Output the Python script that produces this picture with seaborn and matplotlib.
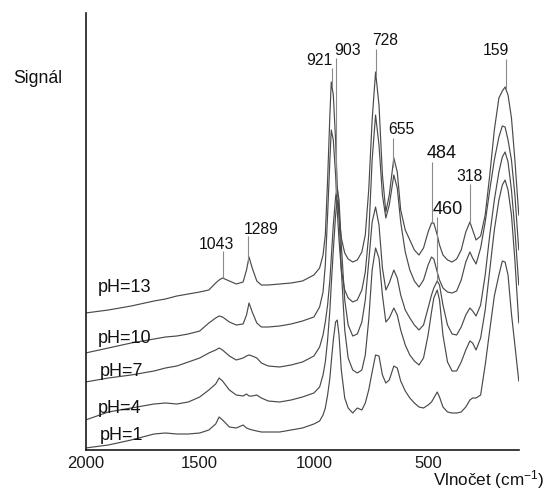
import numpy as np
import pandas as pd
import matplotlib
matplotlib.use("Agg")
import matplotlib.pyplot as plt
import seaborn as sns

# Raman shift grid (cm-1), shared by all spectra
wavenumber = [2000, 1900, 1800, 1700, 1650, 1600, 1550, 1500, 1460, 1430,
              1415, 1400, 1370, 1340, 1310, 1295, 1284, 1270, 1250, 1230,
              1200, 1150, 1100, 1050, 1000, 975, 960, 950, 940, 930,
              924, 915, 905, 898, 890, 880, 865, 850, 830, 810,
              790, 775, 760, 745, 730, 715, 700, 685, 670, 650,
              635, 620, 600, 580, 560, 540, 520, 500, 485, 475,
              460, 450, 435, 415, 395, 375, 355, 335, 317, 305,
              290, 270, 250, 230, 210, 190, 175, 163, 150, 135,
              120, 103]

# Stacked spectra (offset intensity, arbitrary units)
ph13 = [137, 140, 144, 149, 151, 154, 156, 158, 160, 167,
        170, 172, 169, 166, 168, 180, 193, 182, 169, 165,
        165, 166, 167, 169, 175, 182, 195, 215, 270, 335,
        368, 355, 310, 265, 235, 212, 197, 191, 188, 190,
        198, 215, 260, 330, 378, 345, 275, 238, 255, 292,
        278, 240, 220, 210, 200, 195, 202, 218, 227, 227,
        215, 205, 195, 190, 188, 191, 200, 218, 228, 220,
        210, 214, 235, 275, 320, 352, 359, 363, 355, 332,
        290, 235]
ph10 = [97, 102, 107, 111, 113, 114, 116, 119, 127, 132,
        134, 133, 128, 125, 126, 135, 147, 138, 127, 123,
        123, 124, 126, 129, 133, 143, 158, 185, 235, 290,
        320, 310, 275, 240, 210, 180, 160, 152, 148, 150,
        160, 178, 215, 290, 335, 305, 255, 232, 245, 275,
        262, 228, 198, 180, 169, 163, 170, 185, 193, 191,
        178, 170, 162, 158, 157, 159, 170, 188, 198, 192,
        186, 202, 228, 260, 290, 313, 324, 323, 310, 290,
        255, 200]
ph7 = [68, 72, 75, 79, 82, 84, 88, 92, 97, 100,
       102, 100, 94, 90, 92, 94, 95, 94, 92, 87,
       84, 83, 85, 88, 94, 103, 115, 128, 145, 170,
       192, 225, 253, 262, 250, 205, 150, 125, 114, 116,
       128, 150, 188, 228, 243, 225, 182, 160, 167, 180,
       172, 155, 140, 132, 125, 120, 125, 142, 155, 162,
       169, 165, 145, 125, 116, 115, 123, 135, 142, 139,
       134, 145, 175, 215, 250, 278, 293, 298, 288, 260,
       220, 165]
ph4 = [30, 38, 42, 46, 47, 46, 48, 53, 60, 66,
       72, 69, 60, 55, 54, 56, 54, 54, 55, 52,
       49, 48, 50, 53, 57, 63, 75, 88, 110, 140,
       165, 200, 235, 250, 235, 180, 120, 92, 80, 77,
       80, 95, 130, 180, 202, 192, 155, 128, 132, 142,
       135, 120, 105, 95, 89, 85, 92, 115, 138, 152,
       160, 150, 115, 88, 79, 79, 88, 100, 109, 107,
       100, 112, 140, 180, 220, 250, 265, 270, 260, 235,
       190, 127]
ph1 = [2, 5, 10, 16, 17, 16, 16, 17, 20, 26,
       33, 30, 23, 22, 25, 22, 21, 20, 19, 18,
       18, 18, 20, 22, 26, 29, 35, 42, 55, 72,
       88, 110, 128, 130, 115, 80, 52, 42, 37, 42,
       40, 47, 60, 78, 95, 94, 75, 67, 70, 84,
       82, 69, 59, 52, 47, 43, 42, 45, 48, 52,
       58, 53, 43, 38, 37, 37, 38, 43, 50, 52,
       52, 55, 85, 120, 154, 175, 189, 188, 175, 136,
       105, 69]

samples = ["pH=13", "pH=10", "pH=7", "pH=4", "pH=1"]
spectra = [ph13, ph10, ph7, ph4, ph1]

# Band annotations: printed value and the shift where the marker line stands
band_labels = ["1043", "1289", "921", "903", "728", "655", "484", "460", "318", "159"]
band_marks = [1399, 1289, 921, 903, 728, 655, 484, 460, 318, 159]
band_owner = ["pH=13", "pH=13", "pH=13", "pH=7", "pH=13", "pH=13", "pH=13", "pH=7", "pH=13", "pH=13"]

df = pd.concat(
    [pd.DataFrame({"wavenumber": wavenumber, "intensity": s, "sample": name})
     for name, s in zip(samples, spectra)],
    ignore_index=True,
)

sns.set_style("white")
plt.rcParams["font.family"] = ["Liberation Sans", "DejaVu Sans"]
plt.rcParams["mathtext.fontset"] = "custom"
plt.rcParams["mathtext.rm"] = "Liberation Sans"
plt.rcParams["mathtext.it"] = "Liberation Sans:italic"

fig = plt.figure(figsize=(5.45, 4.90), dpi=100)
ax = fig.add_axes([85.5 / 545, 40 / 490, (519 - 85.5) / 545, (450 - 13) / 490])

line_color = "#4a4a4a"
sns.lineplot(data=df, x="wavenumber", y="intensity", hue="sample",
             palette=[line_color] * len(samples), estimator=None, sort=False,
             legend=False, linewidth=0.85, ax=ax)

ax.set_xlim(2000, 102)
ax.set_ylim(0, 437)
ax.set_xlabel("")
ax.set_ylabel("")
ax.set_xticks([2000, 1500, 1000, 500])
ax.set_xticklabels(["2000", "1500", "1000", "500"])
ax.set_yticks([])
ax.tick_params(axis="x", direction="in", length=3, width=1, pad=4.3,
               labelsize=12, colors="#1a1a1a")
for side in ("top", "right"):
    ax.spines[side].set_visible(False)
for side in ("left", "bottom"):
    ax.spines[side].set_linewidth(1.2)
    ax.spines[side].set_color("#1a1a1a")

# sample names beside each trace
ph_text = {"pH=13": (1946, 157.5), "pH=10": (1948, 107), "pH=7": (1937, 74.5),
           "pH=4": (1948, 37), "pH=1": (1937, 10.5)}
for name in samples:
    x, y = ph_text[name]
    ax.text(x, y, name, ha="left", va="baseline", fontsize=13, color="#111111")

# band marker lines and values
text_pos = {"1043": (1426, 201.4), "1289": (1230, 216.4), "921": (977, 385.4),
            "903": (852, 395.4), "728": (688, 405.4), "655": (616, 316.4),
            "484": (439, 291.5), "460": (413, 236.5), "318": (317, 269.4),
            "159": (201, 395.4)}
line_top = {"1043": 199, "1289": 214, "921": 382, "903": 392, "728": 401,
            "655": 312, "484": 288, "460": 233, "318": 266, "159": 391}
big = {"484", "460"}
asc_x = np.array(wavenumber[::-1], dtype=float)
for lab, pos, owner in zip(band_labels, band_marks, band_owner):
    s = np.array(spectra[samples.index(owner)][::-1], dtype=float)
    y0 = float(np.interp(pos, asc_x, s))
    ax.plot([pos, pos], [y0, line_top[lab]], color="#8a8a8a", lw=0.8,
            solid_capstyle="butt")
    tx, ty = text_pos[lab]
    ax.text(tx, ty, lab, ha="center", va="baseline",
            fontsize=13 if lab in big else 11.3, color="#111111")

fig.text(38 / 545, 1 - 83.3 / 490, "Signál", ha="center", va="baseline",
         fontsize=12.7, color="#111111")
fig.text(544 / 545, 1 - 485 / 490, "Vlnočet (cm$^{-1}$)", ha="right",
         va="baseline", fontsize=12.3, color="#111111")

fig.savefig("out.png", dpi=100)
